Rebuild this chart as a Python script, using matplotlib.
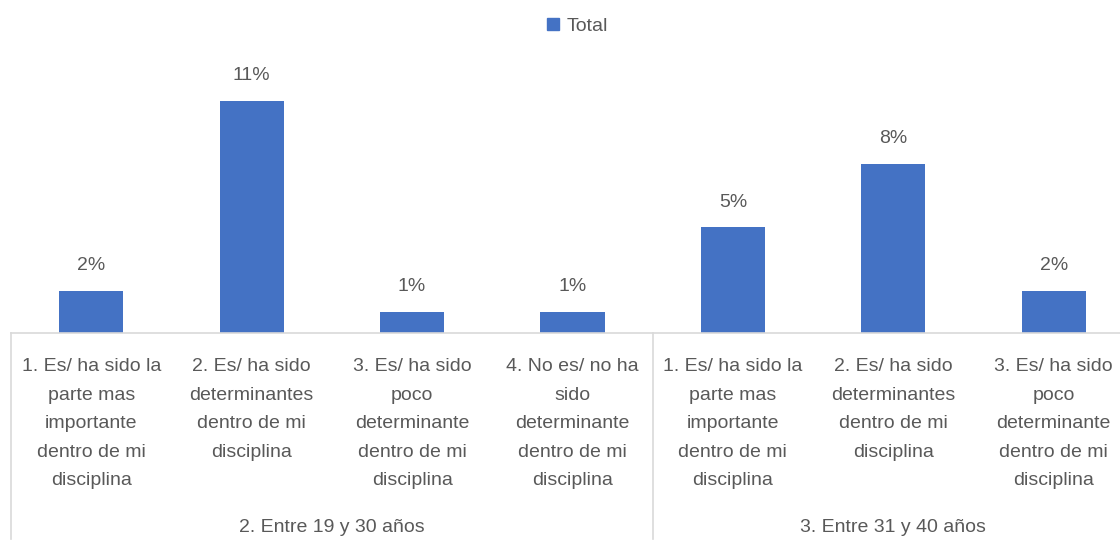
import matplotlib.pyplot as plt
from matplotlib.lines import Line2D

# Share of answers per age bracket and response
categories = [
    "1. Es/ ha sido la\nparte mas\nimportante\ndentro de mi\ndisciplina",
    "2. Es/ ha sido\ndeterminantes\ndentro de mi\ndisciplina",
    "3. Es/ ha sido\npoco\ndeterminante\ndentro de mi\ndisciplina",
    "4. No es/ no ha\nsido\ndeterminante\ndentro de mi\ndisciplina",
    "1. Es/ ha sido la\nparte mas\nimportante\ndentro de mi\ndisciplina",
    "2. Es/ ha sido\ndeterminantes\ndentro de mi\ndisciplina",
    "3. Es/ ha sido\npoco\ndeterminante\ndentro de mi\ndisciplina",
]
values = [2, 11, 1, 1, 5, 8, 2]
groups = ["2. Entre 19 y 30 años", "3. Entre 31 y 40 años"]
group_sizes = [4, 3]

BAR = "#4472C4"
TEXT = "#595959"
GRID = "#D9D9D9"
FS = 14

plt.rcParams["font.family"] = ["Liberation Sans", "DejaVu Sans"]

W, H = 1120, 540
fig = plt.figure(figsize=(W / 100, H / 100), dpi=100)

# axes runs a little past the right edge, so the last column is cut off
x0, x1 = 11, 1134
base, top = 333, 58.5
ax = fig.add_axes([x0 / W, (H - base) / H, (x1 - x0) / W, (base - top) / H])
ax_h = base - top

xs = list(range(len(values)))
bars = ax.bar(xs, values, width=0.4, color=BAR, zorder=2)
for b, v in zip(bars, values):
    ax.annotate(f"{v}%", (b.get_x() + b.get_width() / 2, v),
                xytext=(0, 12), textcoords="offset points",
                ha="center", va="bottom", fontsize=FS, color=TEXT)

ax.set_xlim(-0.5, len(values) - 0.5)
ax.set_ylim(0, 13)
ax.set_xticks(xs)
ax.set_xticklabels([])
ax.tick_params(axis="x", length=0)
ax.set_yticks([])
for s in ["top", "right", "left"]:
    ax.spines[s].set_visible(False)
ax.spines["bottom"].set_color(GRID)
ax.spines["bottom"].set_linewidth(1.2)

# wrapped category names, drawn as text so the line spacing sticks
trans = ax.get_xaxis_transform()
for x, lab in zip(xs, categories):
    ax.text(x, -(358 - base) / ax_h, lab, transform=trans, ha="center",
            va="top", multialignment="center", fontsize=FS, color=TEXT,
            linespacing=1.89)

# group separators and group names under the category names
edge = -0.5
for name, n in zip(groups, group_sizes):
    ax.plot([edge, edge], [0, -0.75], transform=trans, color=GRID,
            lw=1.2, clip_on=False)
    ax.text(edge + n / 2, -(527 - base) / ax_h, name, transform=trans,
            ha="center", va="center", fontsize=FS, color=TEXT)
    edge += n

handle = Line2D([], [], marker="s", ls="none", color=BAR, markersize=8)
fig.legend([handle], ["Total"], loc="center", bbox_to_anchor=(576 / W, 1 - 26 / H),
           frameon=False, fontsize=FS, labelcolor=TEXT,
           handletextpad=0.2, handlelength=1)

fig.savefig("out.png", dpi=100)
